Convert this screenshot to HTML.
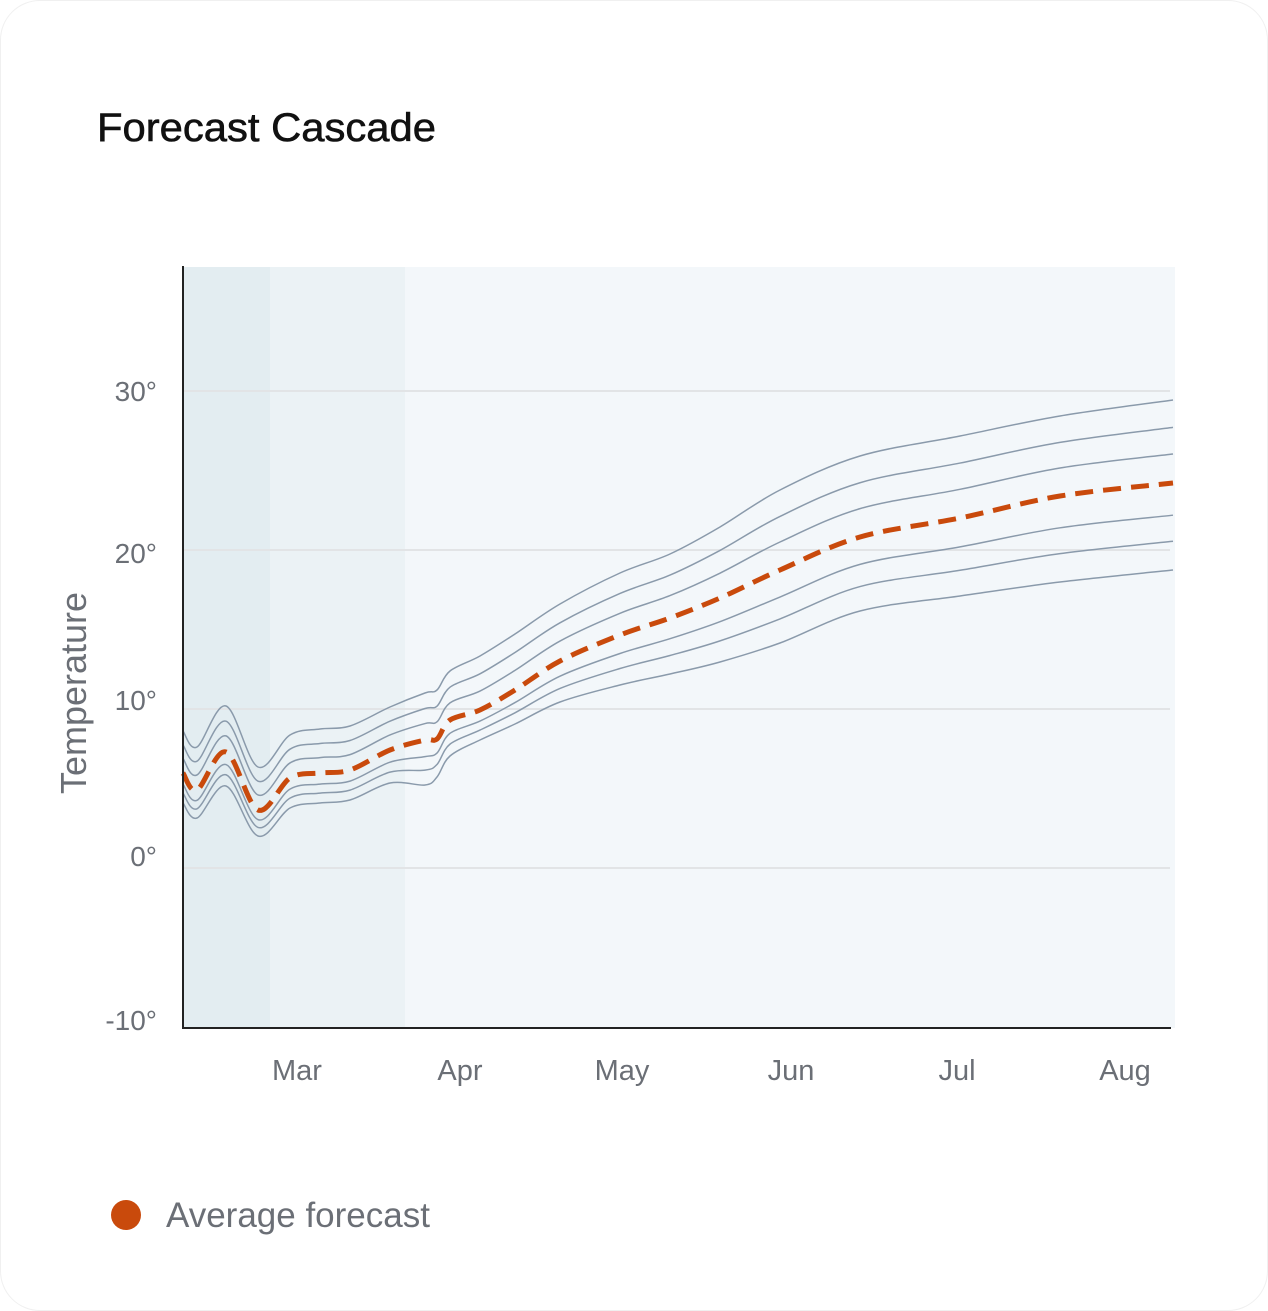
<!DOCTYPE html>
<html><head><meta charset="utf-8"><style>
html,body{margin:0;padding:0;background:#fff;}
.card{position:absolute;left:0;top:0;width:1266px;height:1309px;border:1px solid #f0f0f0;border-radius:40px;background:#fff;}
svg{position:absolute;left:0;top:0;}
text{font-family:"Liberation Sans",sans-serif;}
</style></head><body>
<div class="card"></div>
<svg id="s" width="1268" height="1311" xmlns="http://www.w3.org/2000/svg">
<text x="97" y="141" font-size="40" fill="#111" stroke="#111" stroke-width="0.6" textLength="339" lengthAdjust="spacingAndGlyphs">Forecast Cascade</text>
<rect x="183" y="267" width="87" height="761" fill="#e3edf1"/>
<rect x="270" y="267" width="135" height="761" fill="#ebf2f5"/>
<rect x="405" y="267" width="770" height="761" fill="#f3f7fa"/>
<g stroke="#e2e4e6" stroke-width="2">
<line x1="183" y1="391" x2="1170" y2="391"/><line x1="183" y1="550" x2="1170" y2="550"/>
<line x1="183" y1="709" x2="1170" y2="709"/><line x1="183" y1="868" x2="1170" y2="868"/>
</g>
<g font-size="28" fill="#6b6f76" text-anchor="end">
<text x="157" y="401">30°</text><text x="157" y="563">20°</text><text x="157" y="710">10°</text>
<text x="157" y="866">0°</text><text x="157" y="1030">-10°</text>
</g>
<g font-size="29" fill="#6b6f76" text-anchor="middle">
<text x="297" y="1080">Mar</text><text x="460" y="1080">Apr</text><text x="622" y="1080">May</text>
<text x="791" y="1080">Jun</text><text x="957" y="1080">Jul</text><text x="1125" y="1080">Aug</text>
</g>
<text transform="translate(86,693) rotate(-90)" font-size="36" fill="#6b6f76" text-anchor="middle">Temperature</text>
<g id="lines"></g>
<line x1="183" y1="266" x2="183" y2="1029" stroke="#222" stroke-width="2"/>
<line x1="182" y1="1028" x2="1171" y2="1028" stroke="#222" stroke-width="2"/>
<circle cx="126" cy="1215" r="15" fill="#c94a0c"/>
<text x="166" y="1227" font-size="35" fill="#6b6f76">Average forecast</text>
</svg>
<script>
const X=[183,197,226,258,290,320,350,390,425,437,450,480,515,560,620,670,720,780,860,960,1060,1173];
const T=[731,747,706,767,735,729,726,707,693,690,671,656,634,604,573,554,527,490,456,436,416,400];
const O=[773,790,752,810,778,773,770,750,740,739,720,710,690,661,635,618,598,570,537,518,496,483];
const B=[803,818,786,836,808,803,800,783,785,777,756,740,724,702,685,674,662,643,611,596,582,570];
function path(ys){let p=X.map((x,i)=>[x,ys[i]]);let d="M"+p[0][0]+","+p[0][1];
for(let i=0;i<p.length-1;i++){const p0=p[Math.max(0,i-1)],p1=p[i],p2=p[i+1],p3=p[Math.min(p.length-1,i+2)];
const c1=[p1[0]+(p2[0]-p0[0])/6,p1[1]+(p2[1]-p0[1])/6],c2=[p2[0]-(p3[0]-p1[0])/6,p2[1]-(p3[1]-p1[1])/6];
d+=` C${c1[0].toFixed(1)},${c1[1].toFixed(1)} ${c2[0].toFixed(1)},${c2[1].toFixed(1)} ${p2[0]},${p2[1]}`;}return d;}
const mix=(a,b,f)=>a.map((v,i)=>v+(b[i]-v)*f);
const g=document.getElementById('lines');let h="";
[T,mix(T,O,0.33),mix(T,O,0.65),mix(O,B,0.37),mix(O,B,0.67),B].forEach(ys=>{h+=`<path d="${path(ys)}" fill="none" stroke="#8a9aab" stroke-width="1.5"/>`;});
h+=`<path d="${path(O)}" fill="none" stroke="#c94a0c" stroke-width="5" stroke-dasharray="18,10"/>`;
g.innerHTML=h;
</script>
</body></html>
